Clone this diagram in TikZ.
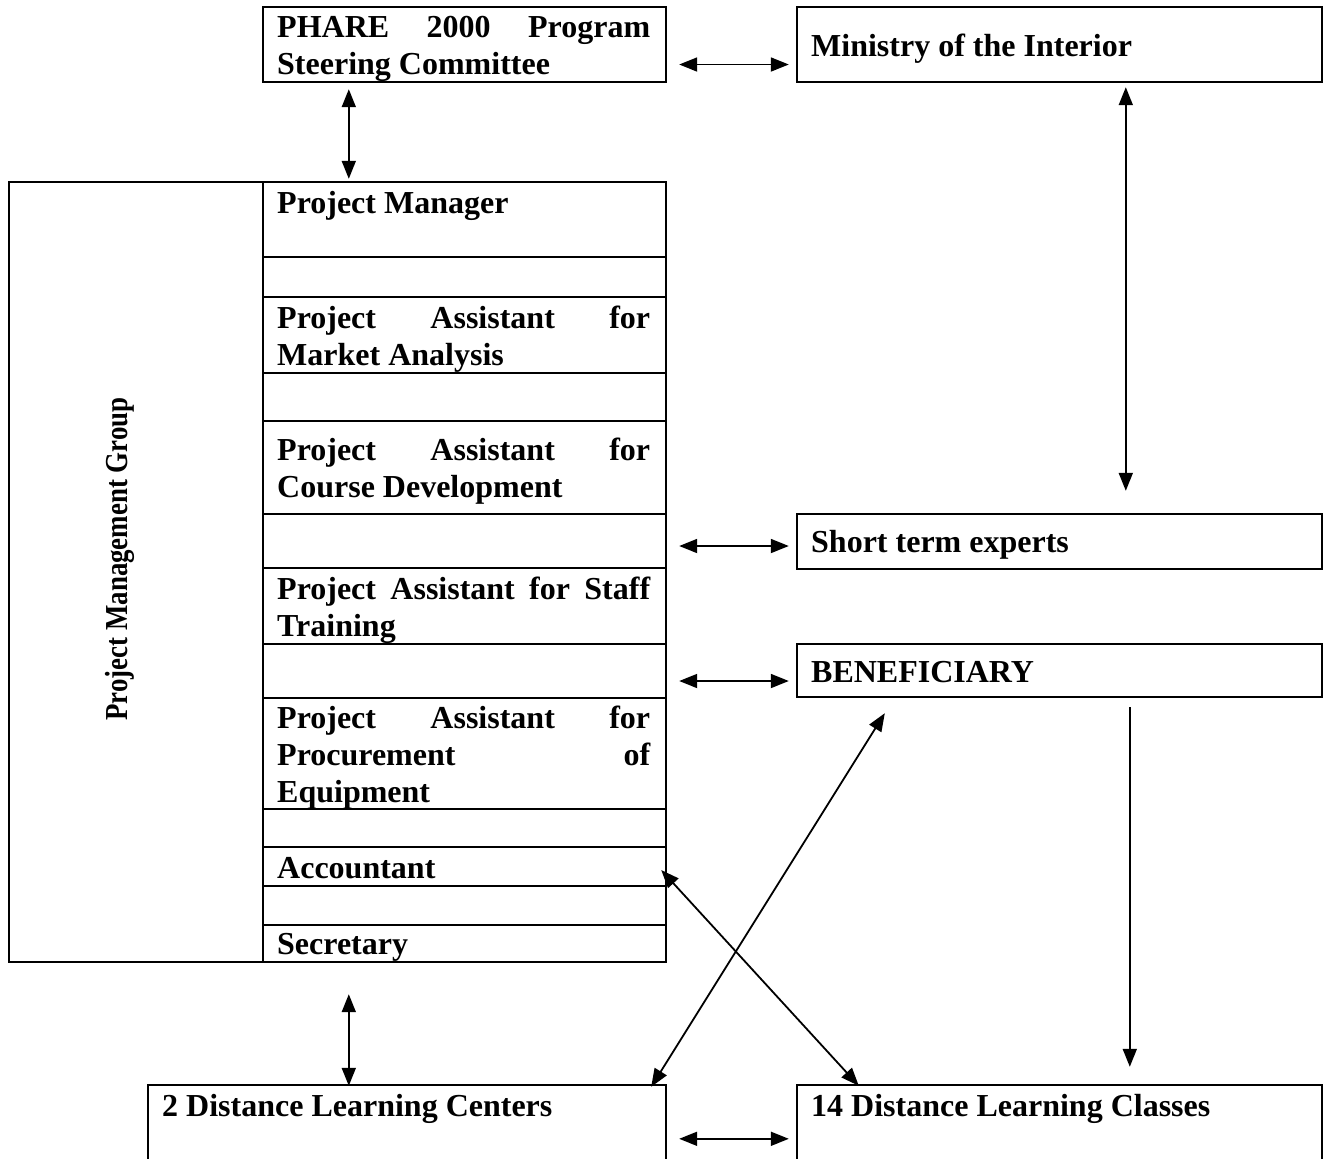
\documentclass[tikz,border=0pt]{standalone}
\usepackage{fontspec}
\usepackage{graphicx}
\setmainfont{Liberation Serif}
\usetikzlibrary{arrows.meta,calc,fit}
\begin{document}
\begin{tikzpicture}[x=0.5pt,y=-0.5pt,
  box/.style={draw,line width=1.2pt,inner sep=0pt},
  lbl/.style={anchor=base west,inner sep=0pt,font=\fontsize{16}{18.5}\selectfont\bfseries},
  tip/.tip={Triangle[length=9pt,width=7pt]},
  link/.style={line width=0.9pt,tip-tip},
  oneway/.style={line width=0.9pt,-tip}]
\clip (0,0) rectangle (1324,1158);
\fill[white] (0,0) rectangle (1324,1158);

% top boxes
\node[box,fit={(263,7) (666,82)}] (phare) {};
\node[box,fit={(797,7) (1322,82)}] (ministry) {};

% project management group with its stacked cells
\node[box,fit={(9,182) (666,962)}] (group) {};
\node[box,fit={(263,182) (666,257)}] (pm) {};
\node[box,fit={(263,257) (666,297)}] (gapA) {};
\node[box,fit={(263,297) (666,373)}] (market) {};
\node[box,fit={(263,373) (666,421)}] (gapB) {};
\node[box,fit={(263,421) (666,514)}] (course) {};
\node[box,fit={(263,514) (666,568)}] (gapC) {};
\node[box,fit={(263,568) (666,644)}] (staff) {};
\node[box,fit={(263,644) (666,698)}] (gapD) {};
\node[box,fit={(263,698) (666,809)}] (proc) {};
\node[box,fit={(263,809) (666,847)}] (gapE) {};
\node[box,fit={(263,847) (666,886)}] (acc) {};
\node[box,fit={(263,886) (666,925)}] (gapF) {};
\node[box,fit={(263,925) (666,962)}] (sec) {};

% right column
\node[box,fit={(797,514) (1322,569)}] (experts) {};
\node[box,fit={(797,644) (1322,697)}] (benef) {};

% bottom boxes (run past the lower edge)
\node[box,fit={(148,1085) (666,1220)}] (dlcA) {};
\node[box,fit={(797,1085) (1322,1220)}] (dlcB) {};

% texts
\node[lbl] (tphare) at ($(phare.north west)+(15,32)$)
  {\parbox[t]{186.5pt}{PHARE 2000 Program\linebreak Steering Committee}};
\node[lbl] (tministry) at ($(ministry.north west)+(15,51)$) {Ministry of the Interior};
\node[lbl,anchor=center,rotate=90] (tgroup) at (120,559)
  {\scalebox{0.84}[1]{Project Management Group}};
\node[lbl] (tpm) at ($(pm.north west)+(15,33)$) {Project Manager};
\node[lbl] (tmarket) at ($(market.north west)+(15,33)$)
  {\parbox[t]{186.5pt}{Project Assistant for\linebreak Market Analysis}};
\node[lbl] (tcourse) at ($(course.north west)+(15,41)$)
  {\parbox[t]{186.5pt}{Project Assistant for\linebreak Course Development}};
\node[lbl] (tstaff) at ($(staff.north west)+(15,33)$)
  {\parbox[t]{186.5pt}{Project Assistant for Staff\linebreak Training}};
\node[lbl] (tproc) at ($(proc.north west)+(15,32)$)
  {\parbox[t]{186.5pt}{Project Assistant for\linebreak Procurement of\linebreak Equipment}};
\node[lbl] (tacc) at ($(acc.north west)+(15,33)$) {Accountant};
\node[lbl] (tsec) at ($(sec.north west)+(15,31)$) {Secretary};
\node[lbl] (texperts) at ($(experts.north west)+(15,40)$) {Short term experts};
\node[lbl] (tbenef) at ($(benef.north west)+(15,40)$) {BENEFICIARY};
\node[lbl] (tdlcA) at ($(dlcA.north west)+(15,33)$) {2 Distance Learning Centers};
\node[lbl] (tdlcB) at ($(dlcB.north west)+(15,33)$) {14 Distance Learning Classes};

% connectors
\draw[link] ($(phare.east)+(12,20)$) -- ($(ministry.west)+(-7,20)$);
\draw[link] ($(phare.south west)+(87,6)$) -- ($(pm.north west)+(87,-2)$);
\draw[link] ($(ministry.south west)+(330,4)$) -- ($(experts.north west)+(330,-22)$);
\draw[link] ($(gapC.east)+(12,5)$) -- ($(experts.west)+(-7,4.5)$);
\draw[link] ($(gapD.east)+(12,10)$) -- ($(benef.west)+(-7,10.5)$);
\draw[oneway] ($(benef.south west)+(334,9)$) -- ($(dlcB.north west)+(334,-17)$);
\draw[link] ($(dlcA.north east)+(-16,3)$) -- ($(benef.south west)+(89,15)$);
\draw[link] ($(acc.east)+(-6,3.5)$) -- ($(dlcB.north west)+(63,2)$);
\draw[link] ($(group.south west)+(341,31)$) -- ($(dlcA.north west)+(202,2)$);
\draw[link] ($(dlcA.north east)+(12,55)$) -- ($(dlcB.north west)+(-7,55)$);
\end{tikzpicture}
\end{document}
